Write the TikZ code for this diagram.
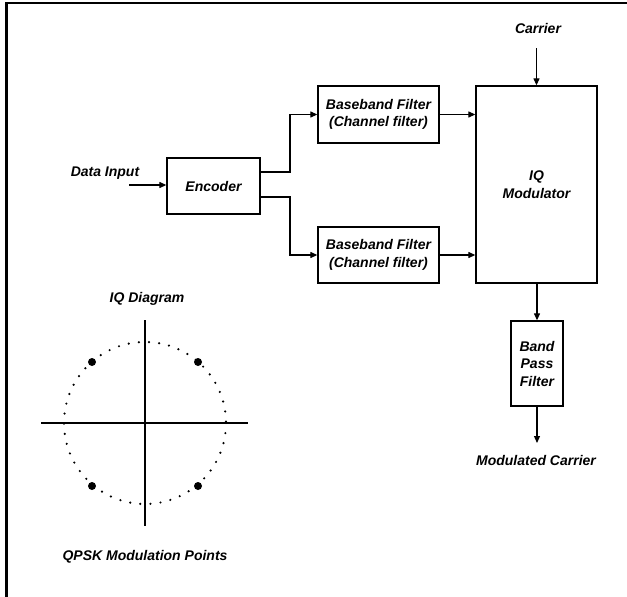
\documentclass[tikz,border=0pt]{standalone}
\usepackage{fontspec}
\setmainfont{Liberation Sans}
\usetikzlibrary{arrows.meta,calc}
\begin{document}
\begin{tikzpicture}[x=1pt,y=-1pt,
  lbl/.style={font=\fontsize{14}{17}\selectfont\bfseries\itshape, inner sep=0pt, align=center},
  blk/.style={draw, line width=1.3pt, inner sep=0pt, align=center, font=\fontsize{14}{17.7}\selectfont\bfseries\itshape},
  arr/.style={line width=1.2pt, -{Triangle[length=7pt,width=6pt]}},
  ln/.style={line width=1.2pt}]
\useasboundingbox (0,0) rectangle (627,597);
\draw[line width=2.6pt] (6.5,597) -- (6.5,3) -- (627,3);
% blocks
\node[blk, minimum width=93pt, minimum height=56pt] (enc) at (213.5,186) {Encoder};
\node[blk, minimum width=121pt, minimum height=57pt] (bb1) at (378.5,114.5) {Baseband Filter\\(Channel filter)};
\node[blk, minimum width=121pt, minimum height=56pt] (bb2) at (378.5,255) {Baseband Filter\\(Channel filter)};
\node[blk, minimum width=121pt, minimum height=197pt] (iq) at (536.5,184.5) {IQ\\Modulator};
\node[blk, minimum width=52pt, minimum height=85pt, font=\fontsize{14}{17.5}\selectfont\bfseries\itshape] (bpf) at (537,363.5) {Band\\Pass\\Filter};
% labels
\node[lbl] (din) at (105,173) {Data Input};
\node[lbl] (car) at (538,28) {Carrier};
\node[lbl] (mc) at (536,460) {Modulated Carrier};
\coordinate (dinA) at (129,185);
\coordinate (carA) at (536.5,48);
\coordinate (mcA) at (537,443);
% connectors
\draw[arr] (dinA) -- (enc.west |- dinA);
\draw[arr] (carA) -- (iq.north);
\draw[arr] (enc.east |- 0,172) -- (290,172) |- (bb1.west);
\draw[arr] (enc.east |- 0,197) -- (290,197) |- (bb2.west);
\draw[arr] (bb1.east) -- (iq.west |- bb1.east);
\draw[arr] (bb2.east) -- (iq.west |- bb2.east);
\draw[arr] (iq.south -| bpf.north) -- (bpf.north);
\draw[arr] (bpf.south) -- (mcA);
% IQ diagram
\node[lbl] (iqd) at (147,299) {IQ Diagram};
\node[lbl] (qpsk) at (145,557) {QPSK Modulation Points};
\coordinate (c) at (145,423);
\draw[ln] (145,320) -- (145,526);
\draw[ln] (41,423) -- (248,423);
\draw[line width=2.4pt, line cap=round, dash pattern=on 0pt off 10.15pt] (c) circle[radius=81];
\foreach \dx/\dy in {-53/-61, 53/-61, -53/63, 53/63}
  \fill ($(c)+(\dx,\dy)$) circle[radius=4];
\end{tikzpicture}
\end{document}
